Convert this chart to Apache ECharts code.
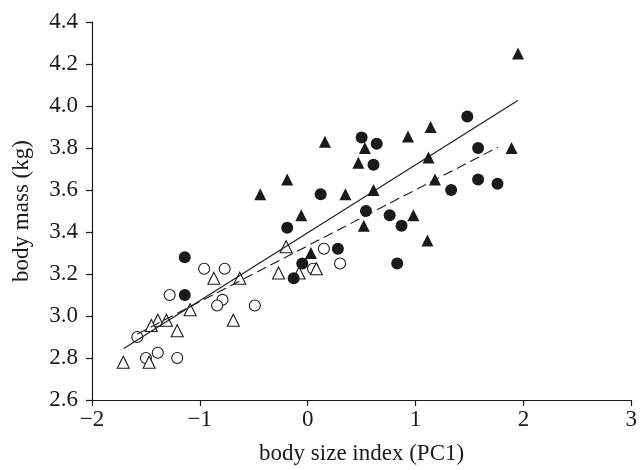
<!DOCTYPE html>
<html>
<head>
<meta charset="utf-8">
<script src="https://cdn.jsdelivr.net/npm/echarts@6/dist/echarts.min.js"></script>
<style>html,body{margin:0;padding:0;background:#fff}#c{width:640px;height:470px}</style>
</head>
<body>
<div id="c"></div>
<script>
var xTicks = [-2, -1, 0, 1, 2, 3];
var yTicks = [2.6, 2.8, 3.0, 3.2, 3.4, 3.6, 3.8, 4.0, 4.2, 4.4];
var filledCircles = [[-0.19,3.42],[-1.14,3.28],[-0.13,3.18],[-1.14,3.10],[0.12,3.58],[1.33,3.60],[0.54,3.50],[0.76,3.48],[0.87,3.43],[0.28,3.32],[-0.05,3.25],[0.83,3.25],[1.48,3.95],[1.58,3.80],[1.58,3.65],[1.76,3.63],[0.50,3.85],[0.64,3.82],[0.61,3.72]];
var openCircles = [[-0.96,3.225],[-0.77,3.225],[-1.28,3.10],[-0.79,3.077],[-0.84,3.05],[-0.49,3.05],[-1.58,2.90],[-1.50,2.80],[-1.39,2.825],[-1.21,2.80],[0.15,3.32],[0.05,3.225],[0.30,3.25]];
var filledTriangles = [[-0.19,3.65],[0.35,3.58],[0.61,3.60],[1.18,3.65],[-0.06,3.48],[0.98,3.48],[0.52,3.43],[1.11,3.36],[0.03,3.30],[1.95,4.25],[1.14,3.90],[0.93,3.855],[1.89,3.80],[1.12,3.755],[0.16,3.83],[0.53,3.80],[0.47,3.73],[-0.44,3.58]];
var openTriangles = [[-0.20,3.33],[-0.87,3.18],[-0.63,3.18],[-0.27,3.205],[-1.09,3.03],[-1.39,2.98],[-1.31,2.98],[-1.45,2.955],[-0.69,2.98],[-1.21,2.93],[-1.71,2.78],[-1.47,2.78],[0.08,3.225],[-0.08,3.205]];
var solidFit = [[-1.705,2.845],[1.948,4.026]];
var dashedFit = [[-1.58,2.914],[1.764,3.804]];

var font = 'Liberation Serif';
var ink = '#1a1a1a';
var fs = 23;
var chart = echarts.init(document.getElementById('c'));
function scat(data, sym, filled, size) {
  return {type:'scatter', data:data, symbol:sym, symbolSize:size, silent:true,
    itemStyle:{opacity:1, color: filled ? ink : '#fff', borderColor: ink, borderWidth: filled ? 0 : 1.1}};
}
chart.setOption({
  animation:false,
  grid:{left:92, right:7, top:22, bottom:68},
  xAxis:{type:'value', min:xTicks[0], max:xTicks[xTicks.length-1], interval:1,
    name:'body size index (PC1)', nameLocation:'middle', nameGap:42,
    nameTextStyle:{fontFamily:font, fontSize:fs, color:ink},
    axisLine:{onZero:false, lineStyle:{color:ink, width:1.2}},
    axisTick:{show:true, length:6, lineStyle:{color:ink, width:1.2}},
    axisLabel:{fontFamily:font, fontSize:fs, color:ink, margin:8,
      formatter:function(v){return String(v).replace('-', '\u2212');}},
    splitLine:{show:false}},
  yAxis:{type:'value', min:yTicks[0], max:yTicks[yTicks.length-1], interval:0.2,
    name:'body mass (kg)', nameLocation:'middle', nameGap:59,
    nameTextStyle:{fontFamily:font, fontSize:fs, color:ink},
    axisLine:{onZero:false, lineStyle:{color:ink, width:1.2}},
    axisTick:{show:true, length:6, lineStyle:{color:ink, width:1.2}},
    axisLabel:{fontFamily:font, fontSize:fs, color:ink, margin:14,
      formatter:function(v){return v.toFixed(1);}},
    splitLine:{show:false}},
  series:[
    {type:'line', data:solidFit, symbol:'none', silent:true, lineStyle:{color:ink, width:1.1}},
    {type:'line', data:dashedFit, symbol:'none', silent:true, lineStyle:{color:ink, width:1.1, type:[10,5]}},
    scat(openCircles, 'circle', false, 11),
    scat(openTriangles, 'triangle', false, 12),
    scat(filledCircles, 'circle', true, 12),
    scat(filledTriangles, 'triangle', true, 12)
  ]
});
</script>
</body>
</html>
